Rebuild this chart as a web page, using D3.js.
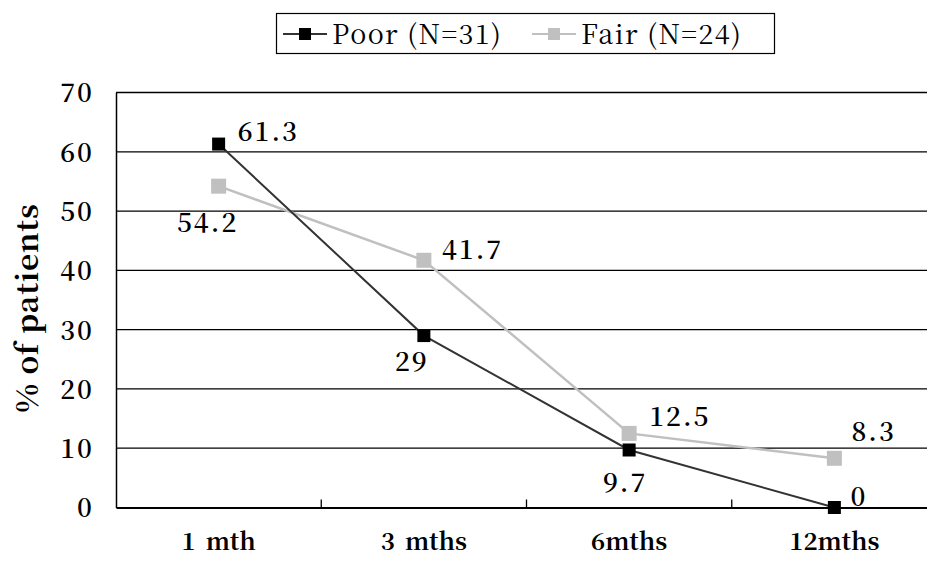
<!DOCTYPE html>
<html>
<head>
<meta charset="utf-8">
<script src="https://cdn.jsdelivr.net/npm/d3@7/dist/d3.min.js"></script>
<style>
  html, body { margin: 0; padding: 0; background: #fff; }
  svg { display: block; }
</style>
</head>
<body>
<svg id="chart" width="927" height="563"></svg>
<script>
// ---- Data ----
const categories = ["1 mth", "3 mths", "6mths", "12mths"];
const poorValues = [61.3, 29, 9.7, 0];
const fairValues = [54.2, 41.7, 12.5, 8.3];
const poorLabels = ["61.3", "29", "9.7", "0"];
const fairLabels = ["54.2", "41.7", "12.5", "8.3"];
const yTicks = [0, 10, 20, 30, 40, 50, 60, 70];
const seriesNames = ["Poor (N=31)", "Fair (N=24)"];

// ---- Layout ----
const plot = { left: 116, right: 937, top: 92.5, bottom: 507.5 };
const svg = d3.select("#chart");

const x = d3.scaleBand().domain(categories).range([plot.left, plot.right]).paddingInner(0).paddingOuter(0);
const y = d3.scaleLinear().domain([0, 70]).range([plot.bottom, plot.top]);
const cx = c => x(c) + x.bandwidth() / 2;

const serif = "'Noto Serif CJK JP', 'Liberation Serif', serif";

function font(sel, size, weight, spacing) {
  sel.style("font-family", serif).style("font-size", size + "px")
     .style("font-weight", weight || "normal")
     .style("letter-spacing", (spacing || 0) + "px");
  return sel;
}

// gridlines
svg.append("g").selectAll("line").data(yTicks.filter(t => t > 0)).join("line")
  .attr("x1", plot.left).attr("x2", plot.right)
  .attr("y1", d => y(d)).attr("y2", d => y(d))
  .attr("stroke", "#000").attr("stroke-width", 1.3);

// y axis
const yAxis = d3.axisLeft(y).tickValues(yTicks).tickSize(0).tickPadding(22).tickFormat(d3.format("d"));
const gy = svg.append("g").attr("transform", `translate(${plot.left},0)`).call(yAxis);
gy.select(".domain").attr("stroke", "#000").attr("stroke-width", 1.5);
font(gy.selectAll("text"), 26, "600", 2).attr("fill", "#000").attr("dy", "0.36em");

// x axis
const xAxis = d3.axisBottom(x).tickSize(0).tickPadding(30);
const gx = svg.append("g").attr("transform", `translate(0,${plot.bottom})`).call(xAxis);
gx.select(".domain").attr("stroke", "#000").attr("stroke-width", 1.8);
font(gx.selectAll("text"), 24, "bold", 0).style("word-spacing", "4px")
  .attr("fill", "#000").attr("dy", "0.5em");
// category separator ticks
svg.append("g").selectAll("line").data(categories.slice(1)).join("line")
  .attr("x1", d => x(d)).attr("x2", d => x(d))
  .attr("y1", plot.bottom).attr("y2", plot.bottom - 8)
  .attr("stroke", "#000").attr("stroke-width", 1.3);

// y axis title
font(svg.append("text"), 30, "bold", 0.8)
  .attr("transform", `translate(38,${308}) rotate(-90)`)
  .attr("text-anchor", "middle")
  .attr("fill", "#000").text("% of patients");

// lines
const line = d3.line().x((d, i) => cx(categories[i])).y(d => y(d));
svg.append("path").datum(fairValues).attr("d", line)
  .attr("fill", "none").attr("stroke", "#c0c0c0").attr("stroke-width", 2.5);
svg.append("path").datum(poorValues).attr("d", line)
  .attr("fill", "none").attr("stroke", "#333").attr("stroke-width", 2);

// markers
const ms = 13;
svg.append("g").selectAll("rect").data(fairValues).join("rect")
  .attr("x", (d, i) => cx(categories[i]) - (ms + 2) / 2)
  .attr("y", d => y(d) - (ms + 2) / 2)
  .attr("width", ms + 2).attr("height", ms + 2).attr("fill", "#c0c0c0");
svg.append("g").selectAll("rect").data(poorValues).join("rect")
  .attr("x", (d, i) => cx(categories[i]) - ms / 2)
  .attr("y", d => y(d) - ms / 2)
  .attr("width", ms).attr("height", ms).attr("fill", "#000");

// data labels (offsets relative to marker)
const poorOffsets = [[19, -12, "start"], [-12, 26, "middle"], [-4, 33, "middle"], [16, -11, "start"]];
const fairOffsets = [[-11, 36, "middle"], [18, -11, "start"], [20, -17, "start"], [17, -27, "start"]];
function addLabels(values, labels, offsets) {
  font(svg.append("g").selectAll("text").data(values).join("text"), 26, "600", 2)
    .attr("x", (d, i) => cx(categories[i]) + offsets[i][0])
    .attr("y", (d, i) => y(d) + offsets[i][1])
    .attr("dy", "0.36em")
    .attr("text-anchor", (d, i) => offsets[i][2])
    .attr("fill", "#000")
    .text((d, i) => labels[i]);
}
addLabels(poorValues, poorLabels, poorOffsets);
addLabels(fairValues, fairLabels, fairOffsets);

// legend
const lg = svg.append("g");
lg.append("rect").attr("x", 276.5).attr("y", 13.5).attr("width", 498).attr("height", 40)
  .attr("fill", "#fff").attr("stroke", "#000").attr("stroke-width", 1.2);
const legendItems = [
  { name: seriesNames[0], color: "#333", mcolor: "#000", x0: 283 },
  { name: seriesNames[1], color: "#c0c0c0", mcolor: "#c0c0c0", x0: 532 }
];
legendItems.forEach(it => {
  lg.append("line").attr("x1", it.x0).attr("x2", it.x0 + 44).attr("y1", 34).attr("y2", 34)
    .attr("stroke", it.color).attr("stroke-width", 2.2);
  lg.append("rect").attr("x", it.x0 + 22 - 6).attr("y", 28).attr("width", 12).attr("height", 12)
    .attr("fill", it.mcolor);
  font(lg.append("text"), 27, "normal", 1.4).attr("x", it.x0 + 49).attr("y", 34).attr("dy", "0.36em")
    .attr("fill", "#000").text(it.name);
});
</script>
</body>
</html>
